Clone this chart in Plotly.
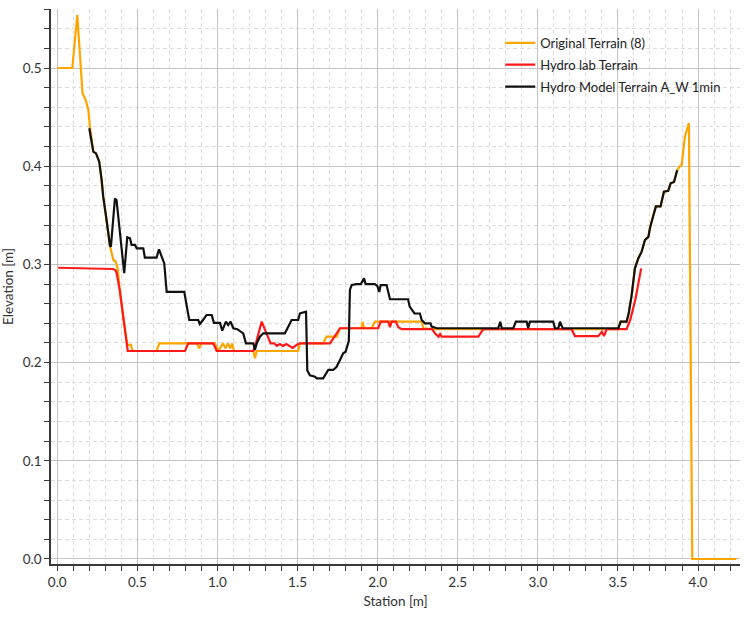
import plotly.graph_objects as go

# ---------------- data ----------------
orig_x = [0.0, 0.094, 0.125, 0.14, 0.158, 0.179, 0.194, 0.204, 0.225, 0.242, 0.262, 0.277,
          0.287, 0.308, 0.318, 0.329, 0.35, 0.364, 0.377, 0.39, 0.412, 0.437, 0.46, 0.47,
          0.62, 0.637, 0.87, 0.886, 0.90, 0.984, 1.005, 1.02, 1.035, 1.05, 1.065, 1.08,
          1.093, 1.103, 1.224, 1.234, 1.245, 1.504, 1.515, 1.66, 1.68, 1.745, 1.765, 1.90,
          1.906, 1.915, 1.963, 1.983, 2.275, 2.285, 2.34, 2.65, 3.50, 3.517, 3.554, 3.567,
          3.585, 3.606, 3.627, 3.648, 3.669, 3.69, 3.70, 3.72, 3.737, 3.766, 3.787, 3.814,
          3.829, 3.85, 3.87, 3.887, 3.898, 3.918, 3.933, 3.943, 3.964, 4.24]
orig_y = [0.5, 0.5, 0.554, 0.515, 0.474, 0.467, 0.457, 0.44, 0.4148, 0.413, 0.4046, 0.386,
          0.369, 0.345, 0.333, 0.319, 0.3045, 0.303, 0.296, 0.274, 0.2467, 0.218, 0.218, 0.2118,
          0.2118, 0.2196, 0.2196, 0.2146, 0.2196, 0.2196, 0.2118, 0.216, 0.2196, 0.2145, 0.2196, 0.2145,
          0.2196, 0.2118, 0.2118, 0.2044, 0.2118, 0.2118, 0.2196, 0.2196, 0.2264, 0.2264, 0.235, 0.235,
          0.2417, 0.235, 0.235, 0.2417, 0.2417, 0.235, 0.234, 0.234, 0.234, 0.2417, 0.2417, 0.25,
          0.268, 0.296, 0.306, 0.313, 0.325, 0.328, 0.337, 0.350, 0.359, 0.359, 0.374, 0.375,
          0.3826, 0.384, 0.396, 0.40, 0.401, 0.43, 0.44, 0.444, 0.0, 0.0]

lab_x = [0.006, 0.35, 0.364, 0.371, 0.39, 0.412, 0.44, 0.797, 0.818, 0.974, 0.995, 1.224,
         1.24, 1.276, 1.307, 1.332, 1.355, 1.37, 1.39, 1.41, 1.43, 1.45, 1.47, 1.494,
         1.515, 1.703, 1.765, 2.004, 2.019, 2.066, 2.077, 2.087, 2.114, 2.129, 2.15, 2.34,
         2.358, 2.38, 2.39, 2.40, 2.628, 2.66, 3.21, 3.232, 3.377, 3.40, 3.413, 3.43,
         3.554, 3.576, 3.61, 3.645]
lab_y = [0.2966, 0.2953, 0.294, 0.291, 0.274, 0.2467, 0.2118, 0.2118, 0.2196, 0.2196, 0.2118, 0.2118,
         0.2196, 0.2417, 0.2298, 0.2196, 0.2196, 0.217, 0.219, 0.217, 0.219, 0.217, 0.215, 0.218,
         0.2196, 0.2196, 0.235, 0.235, 0.2417, 0.2417, 0.236, 0.2417, 0.2417, 0.236, 0.234, 0.234,
         0.2298, 0.2264, 0.229, 0.2264, 0.2264, 0.234, 0.234, 0.227, 0.227, 0.2315, 0.227, 0.234,
         0.234, 0.243, 0.265, 0.296]

model_x = [0.2, 0.225, 0.242, 0.262, 0.277, 0.287, 0.308, 0.318, 0.329, 0.335, 0.345, 0.36,
           0.37, 0.391, 0.418, 0.437, 0.454, 0.464, 0.485, 0.496, 0.537, 0.547, 0.62, 0.635,
           0.652, 0.668, 0.683, 0.793, 0.808, 0.824, 0.88, 0.89, 0.91, 0.932, 0.964, 0.978,
           1.016, 1.03, 1.053, 1.067, 1.082, 1.099, 1.124, 1.145, 1.161, 1.178, 1.224, 1.234,
           1.245, 1.265, 1.286, 1.421, 1.442, 1.463, 1.504, 1.515, 1.553, 1.561, 1.577, 1.609,
           1.62, 1.66, 1.671, 1.692, 1.723, 1.744, 1.765, 1.785, 1.80, 1.81, 1.82, 1.827,
           1.838, 1.869, 1.895, 1.915, 1.925, 1.983, 1.998, 2.01, 2.019, 2.056, 2.077, 2.19,
           2.2, 2.23, 2.264, 2.275, 2.295, 2.33, 2.337, 2.37, 2.753, 2.765, 2.775, 2.847,
           2.863, 2.93, 2.94, 2.95, 3.096, 3.107, 3.128, 3.138, 3.155, 3.503, 3.517, 3.554,
           3.567, 3.585, 3.606, 3.627, 3.648, 3.669, 3.69, 3.70, 3.72, 3.737, 3.766, 3.787,
           3.814, 3.829, 3.85, 3.87]
model_y = [0.4386, 0.4148, 0.413, 0.4046, 0.386, 0.369, 0.345, 0.333, 0.319, 0.318, 0.34, 0.367,
           0.3656, 0.3317, 0.291, 0.3276, 0.3266, 0.3198, 0.3198, 0.3164, 0.3164, 0.307, 0.307, 0.3154,
           0.3078, 0.301, 0.272, 0.272, 0.258, 0.2434, 0.2434, 0.2393, 0.2434, 0.2485, 0.2485, 0.2405,
           0.2405, 0.2325, 0.2417, 0.2383, 0.2417, 0.235, 0.234, 0.2315, 0.2298, 0.2196, 0.2196, 0.2128,
           0.2196, 0.2264, 0.2298, 0.2298, 0.2366, 0.2434, 0.2434, 0.2502, 0.2518, 0.192, 0.187, 0.1857,
           0.184, 0.184, 0.187, 0.1925, 0.1925, 0.1958, 0.2026, 0.2095, 0.211, 0.218, 0.222, 0.274,
           0.279, 0.280, 0.280, 0.2858, 0.280, 0.280, 0.278, 0.272, 0.279, 0.279, 0.2645, 0.2645,
           0.257, 0.25, 0.25, 0.2434, 0.24, 0.24, 0.2366, 0.235, 0.235, 0.2416, 0.235, 0.235,
           0.2417, 0.2417, 0.235, 0.2417, 0.2417, 0.235, 0.235, 0.2417, 0.235, 0.235, 0.2417, 0.2417,
           0.25, 0.268, 0.296, 0.306, 0.313, 0.325, 0.328, 0.337, 0.350, 0.359, 0.359, 0.374,
           0.375, 0.3826, 0.384, 0.396]

series_names = ["Original Terrain (8)", "Hydro lab Terrain", "Hydro Model Terrain A_W 1min"]
series_colors = ["#FFA500", "#FF1A1A", "#111111"]

x_title = "Station [m]"
y_title = "Elevation [m]"

# ---------------- figure ----------------
FONT = "Lato"
fig = go.Figure()
for i, (xs, ys) in enumerate([(orig_x, orig_y), (lab_x, lab_y), (model_x, model_y)]):
    fig.add_trace(go.Scatter(
        x=xs, y=ys, mode="lines", name=series_names[i],
        legendgroup=f"g{i}",
        line=dict(color=series_colors[i], width=2.2),
    ))

axis_common = dict(
    showline=True, linecolor="#3a3a3a", linewidth=1.5,
    ticks="outside", ticklen=5, tickwidth=1.2, tickcolor="#3a3a3a",
    showgrid=True, gridcolor="#c4c4c4", gridwidth=1,
    zeroline=False,
    tickfont=dict(family=FONT, size=13.5, color="#333333"),
    title_font=dict(family=FONT, size=13.5, color="#333333"),
)

fig.update_layout(
    width=744, height=622,
    margin=dict(l=51, r=4, t=9, b=58),
    paper_bgcolor="white", plot_bgcolor="white",
    font=dict(family=FONT, size=13, color="#222222"),
    showlegend=True,
    legend=dict(
        x=0.652, y=0.966, xanchor="left", yanchor="top",
        bgcolor="rgba(255,255,255,0)", borderwidth=0,
        font=dict(family=FONT, size=13, color="#222222"),
        tracegroupgap=2, itemwidth=30,
    ),
    xaxis=dict(
        range=[-0.039, 4.262], dtick=0.5, tick0=0, tickformat=".1f",
        title=dict(text=x_title, standoff=8),
        minor=dict(dtick=0.1, tick0=0, showgrid=True, gridcolor="#dcdcdc",
                   griddash="4px,3px", ticks="outside", ticklen=5, tickcolor="#3a3a3a"),
        **axis_common,
    ),
    yaxis=dict(
        range=[-0.0051, 0.5601], dtick=0.1, tick0=0, tickformat=".1f",
        title=dict(text=y_title, standoff=6),
        minor=dict(dtick=0.02, tick0=0, showgrid=True, gridcolor="#dcdcdc",
                   griddash="4px,3px", ticks="outside", ticklen=5, tickcolor="#3a3a3a"),
        **axis_common,
    ),
)

fig.write_html("out.html")
